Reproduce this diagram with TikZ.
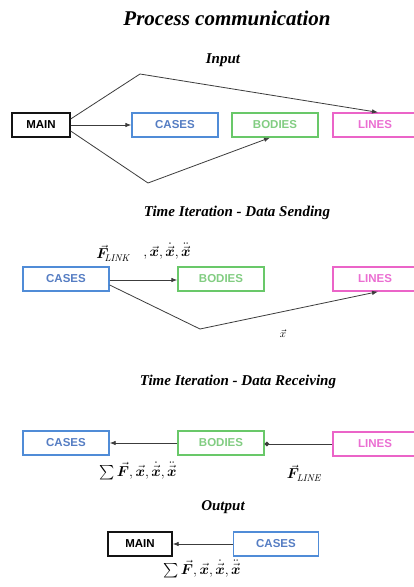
\documentclass[tikz,border=0pt]{standalone}
\usepackage{amsmath}
\usepackage{bm}
\usepackage{fontspec}
\setsansfont{Liberation Sans}
\newfontfamily\headfont{Liberation Serif}
\usetikzlibrary{arrows.meta,calc}
\definecolor{mainblack}{RGB}{20,20,20}
\definecolor{caseborder}{RGB}{80,140,215}
\definecolor{casetext}{RGB}{85,125,195}
\definecolor{bodyborder}{RGB}{105,200,105}
\definecolor{bodytext}{RGB}{130,205,130}
\definecolor{lineborder}{RGB}{235,100,200}
\definecolor{linetext}{RGB}{235,110,210}
\definecolor{arrowgray}{RGB}{60,60,60}
\tikzset{
  box/.style={draw, line width=1.3pt, minimum width=86pt, minimum height=24pt, inner sep=0pt,
    font=\sffamily\bfseries\fontsize{11.5}{12}\selectfont},
  mainbox/.style={box, draw=mainblack, text=black, minimum width=58pt},
  casebox/.style={box, draw=caseborder, text=casetext},
  bodybox/.style={box, draw=bodyborder, text=bodytext},
  linebox/.style={box, draw=lineborder, text=linetext, minimum width=84pt},
  conn/.style={draw=arrowgray, line width=0.8pt, -{Latex[length=6pt,width=4.5pt]}},
  dotconn/.style={draw=arrowgray, line width=0.8pt, -{Circle[length=4.5pt]}},
  heading/.style={font=\headfont\bfseries\itshape\fontsize{15}{17}\selectfont},
  title/.style={font=\headfont\bfseries\itshape\fontsize{21}{23}\selectfont},
  mlabel/.style={font=\fontsize{14}{16}\selectfont, inner sep=0pt},
}
\begin{document}
\begin{tikzpicture}[x=1pt,y=-1pt]
\useasboundingbox (0,0) rectangle (414,587);
\fill[white] (0,0) rectangle (414,587);
\clip (0,0) rectangle (414,587);

% headings
\node[title] (ttl) at (227,18) {Process communication};
\node[heading] (hin) at (223,60) {Input};
\node[heading] (hsend) at (237,213) {Time Iteration - Data Sending};
\node[heading] (hrecv) at (238,382) {Time Iteration - Data Receiving};
\node[heading] (hout) at (223,507) {Output};

% Input
\node[mainbox] (main1) at (41,125) {MAIN};
\node[casebox] (cases1) at (175,125) {CASES};
\node[bodybox] (bodies1) at (275,125) {BODIES};
\node[linebox] (lines1) at (375,125) {LINES};
\coordinate (inTop) at (140,74);
\coordinate (inBot) at (148,183);
\draw[conn] (main1.east) -- (cases1.west);
\draw[conn] ($(main1.east)+(0,-6)$) -- (inTop) -- ($(lines1.north)+(3,0)$);
\draw[conn] ($(main1.east)+(0,6)$) -- (inBot) -- ($(bodies1.south)+(-5,0)$);

% Sending
\node[casebox] (cases2) at (66,279) {CASES};
\node[bodybox] (bodies2) at (221,279) {BODIES};
\node[linebox] (lines2) at (375,279) {LINES};
\coordinate (sBot) at (200,329);
\draw[conn] ($(cases2.east)+(0,1)$) -- ($(bodies2.west)+(0,1)$);
\draw[conn] ($(cases2.east)+(0,6)$) -- (sBot) -- ($(lines2.south)+(3,0)$);
\node[mlabel] (flink) at (113,253) {$\vec{\bm F}_{\!\mathit{LINK}}$};
\node[mlabel] (xsend) at (167,251) {$,\vec{\bm x},\dot{\vec{\bm x}},\ddot{\vec{\bm x}}$};
\node[mlabel, font=\fontsize{11}{12}\selectfont] (xonly) at (283,334) {$\vec{x}$};

% Receiving
\node[casebox] (cases3) at (66,443) {CASES};
\node[bodybox] (bodies3) at (221,443) {BODIES};
\node[linebox] (lines3) at (375,444) {LINES};
\draw[conn] (bodies3.west) -- (cases3.east);
\draw[dotconn] (lines3.west) -- ($(bodies3.east)+(0,1)$);
\node[mlabel] (sum3) at (138,471) {$\sum\vec{\bm F},\vec{\bm x},\dot{\vec{\bm x}},\ddot{\vec{\bm x}}$};
\node[mlabel] (fline) at (304,473) {$\vec{\bm F}_{\mathit{LINE}}$};

% Output
\node[mainbox, minimum width=64pt] (main4) at (140,544) {MAIN};
\node[casebox, minimum width=85pt] (cases4) at (276,544) {CASES};
\draw[conn] (cases4.west) -- (main4.east);
\node[mlabel] (sum4) at (202,569) {$\sum\vec{\bm F},\vec{\bm x},\dot{\vec{\bm x}},\ddot{\vec{\bm x}}$};
\end{tikzpicture}
\end{document}
